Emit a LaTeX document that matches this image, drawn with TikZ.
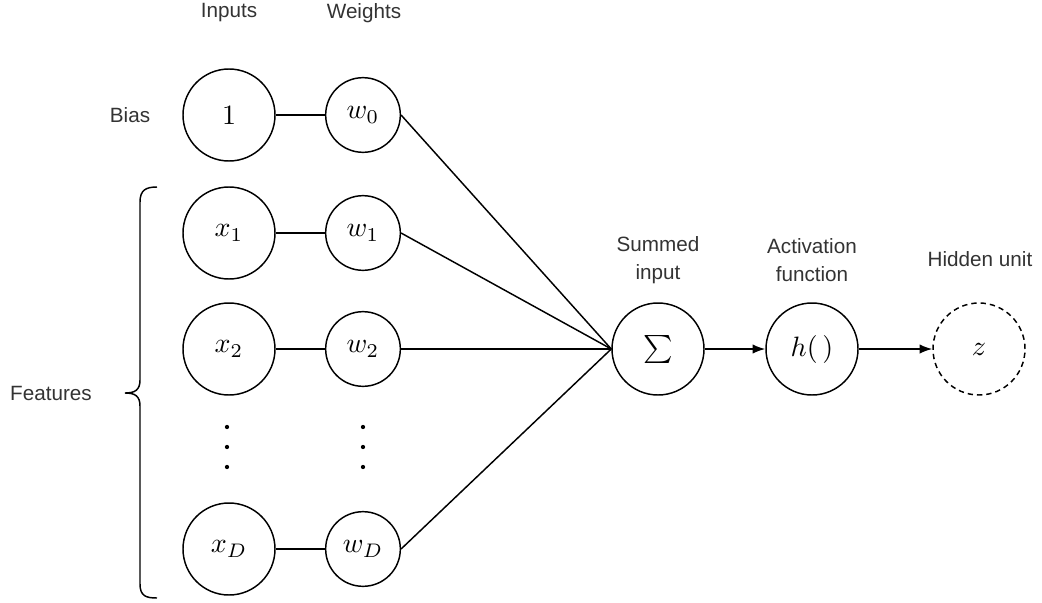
\documentclass[tikz,border=0pt]{standalone}
\usepackage{graphicx}
\usepackage[no-math]{fontspec}
\newfontfamily\labelfont{Liberation Sans}
\usetikzlibrary{arrows.meta}
% enlarged math symbol inside a unit
\newcommand{\unitmath}[1]{\scalebox{2.1}{$#1$}}
\begin{document}
\begin{tikzpicture}[x=0.75pt,y=-0.75pt,
  unitline/.style={line width=1.1pt},
  inputunit/.style={circle,draw,unitline,minimum size=69pt,inner sep=0pt},
  weightunit/.style={circle,draw,unitline,minimum size=56pt,inner sep=0pt},
  hiddenunit/.style={inputunit,dash pattern=on 4pt off 3pt},
  caption/.style={font=\labelfont\fontsize{15.5}{21}\selectfont,text=black!80,align=center},
  link/.style={unitline},
  flow/.style={unitline,-{Latex[length=9.5pt,width=7pt]}},
  dotmark/.style={circle,fill,inner sep=0pt,minimum size=3.2pt}
]
\useasboundingbox (0,0) rectangle (1042,603);

% column headings
\node[caption] (inputs) at (229,13) {Inputs};
\node[caption] (weights) at (364,13) {Weights};
\node[caption] (biaslbl) at (130,115) {Bias};

% input and weight units
\node[inputunit] (one) at (229,115) {\unitmath{1}};
\node[weightunit] (w0) at (363,115) {\unitmath{w_0}};
\node[inputunit] (x1) at (229,233) {\unitmath{x_1}};
\node[weightunit] (w1) at (363,233) {\unitmath{w_1}};
\node[inputunit] (x2) at (229,349) {\unitmath{x_2}};
\node[weightunit] (w2) at (363,349) {\unitmath{w_2}};
\node[inputunit] (xD) at (229,549) {\unitmath{x_D}};
\node[weightunit] (wD) at (363,549) {\unitmath{w_D}};

% vertical ellipses
\node[dotmark] (xa) at (227,427) {};
\node[dotmark] (xb) at (227,447) {};
\node[dotmark] (xc) at (227,467) {};
\node[dotmark] (wa) at (363,427) {};
\node[dotmark] (wb) at (363,447) {};
\node[dotmark] (wc) at (363,467) {};

% summation, activation, output
\node[inputunit] (sum) at (658,349) {\unitmath{\textstyle\sum}};
\node[inputunit] (act) at (812,349) {\unitmath{h(\,)}};
\node[hiddenunit] (z) at (979,349) {\unitmath{z}};

\node[caption] (sumlbl) at (658,260) {Summed\\input};
\node[caption] (actlbl) at (812,260) {Activation\\function};
\node[caption] (zlbl) at (980,259) {Hidden unit};

% connections
\draw[link] (one) -- (w0);
\draw[link] (x1) -- (w1);
\draw[link] (x2) -- (w2);
\draw[link] (xD) -- (wD);
\draw[link] (w0.east) -- (sum.west);
\draw[link] (w1.east) -- (sum.west);
\draw[link] (w2.east) -- (sum.west);
\draw[link] (wD.east) -- (sum.west);
\draw[flow] (sum) -- (act);
\draw[flow] (act) -- (z);

% brace grouping the features
\draw[unitline] (157,187) .. controls (146,187) and (140,190) .. (140,202)
  -- (140,380) .. controls (140,390) and (135,393) .. (125,393)
  .. controls (135,393) and (140,396) .. (140,406)
  -- (140,584) .. controls (140,596) and (146,598) .. (157,598);
\node[caption] (featlbl) at (51,393) {Features};
\end{tikzpicture}
\end{document}
